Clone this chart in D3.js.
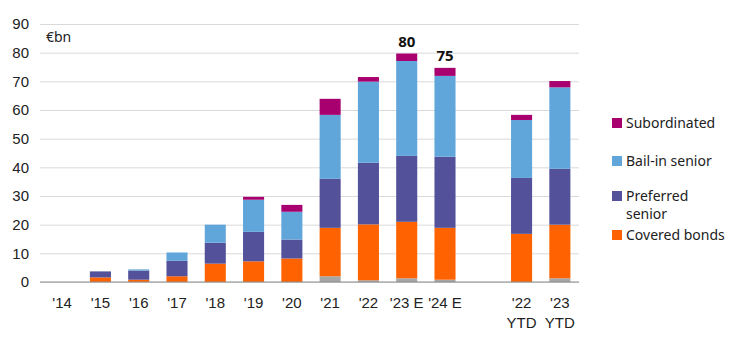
<!DOCTYPE html>
<html>
<head>
<meta charset="utf-8">
<script src="https://cdn.jsdelivr.net/npm/d3@7"></script>
<style>
	body { margin: 0; background: #fff; }
	svg { font-family: "Noto Sans", "Open Sans", sans-serif; }
</style>
</head>
<body>
<div id="chart"></div>
<script>
// categories ('' is the empty slot between the full years and the YTD bars)
var categories = [ "'14", "'15", "'16", "'17", "'18", "'19", "'20", "'21", "'22", "'23 E", "'24 E", '', "'22|YTD", "'23|YTD" ];

// series values, €bn, bottom to top
var other         = [ 0, 0,   0,   0,   0,   0,   0,   2.0,  0.6,  1.3,  0.8,  0, 0,    1.3 ];
var coveredBonds  = [ 0, 1.6, 0.8, 2.0, 6.4, 7.2, 8.2, 16.9, 19.5, 19.7, 18.1, 0, 16.8, 18.7 ];
var preferred     = [ 0, 2.1, 3.2, 5.4, 7.3, 10.3, 6.6, 17.1, 21.5, 23.0, 24.8, 0, 19.5, 19.5 ];
var bailIn        = [ 0, 0,   0.4, 2.9, 6.3, 11.2, 9.7, 22.3, 28.3, 33.1, 28.2, 0, 20.2, 28.4 ];
var subordinated  = [ 0, 0,   0,   0,   0,   1.0, 2.4, 5.6,  1.6,  2.6,  2.8,  0, 1.8,  2.2 ];

var totalLabels = [ { cat: "'23 E", text: '80' }, { cat: "'24 E", text: '75' } ];
var yTicks = [ 0, 10, 20, 30, 40, 50, 60, 70, 80, 90 ];

var series = [
	{ key: 'other', name: null, values: other, color: '#a6a6a6' },
	{ key: 'covered', name: 'Covered bonds', values: coveredBonds, color: '#ff6200' },
	{ key: 'preferred', name: 'Preferred|senior', values: preferred, color: '#525199' },
	{ key: 'bailin', name: 'Bail-in senior', values: bailIn, color: '#60a6da' },
	{ key: 'sub', name: 'Subordinated', values: subordinated, color: '#a8006f' }
];

var sizes = { width: 747, height: 339 };
var padding = { top: 24, left: 43, right: 168, bottom: 57 };
sizes.cwidth = sizes.width - padding.left - padding.right;
sizes.cheight = sizes.height - padding.top - padding.bottom;

var rows = categories.map( function ( c, i ) {
	var r = { cat: c };
	series.forEach( function ( s ) { r[s.key] = s.values[i]; } );
	return r;
} );

var stacked = d3.stack().keys( series.map( function ( s ) { return s.key; } ) )( rows );

var scales = {};
scales.x = d3.scaleBand().domain( categories ).range( [ 0, sizes.cwidth ] ).paddingInner( 0.45 ).paddingOuter( 0.225 );
scales.y = d3.scaleLinear().domain( [ 0, 90 ] ).range( [ sizes.cheight, 0 ] );

var svg = d3.select( '#chart' ).append( 'svg' )
	.attr( 'width', sizes.width )
	.attr( 'height', sizes.height );

var guts = svg.append( 'g' )
	.attr( 'transform', 'translate(' + padding.left + ',' + padding.top + ')' );

// gridlines + y labels
var yAxis = guts.append( 'g' )
	.call( d3.axisLeft( scales.y ).tickValues( yTicks ).tickSize( -sizes.cwidth ).tickPadding( 14 ) );
yAxis.select( '.domain' ).remove();
yAxis.selectAll( '.tick line' ).attr( 'stroke', '#d9d9d9' ).attr( 'x1', -3 );
yAxis.selectAll( '.tick text' ).attr( 'fill', '#222' ).style( 'font-size', '15px' );

guts.append( 'text' )
	.attr( 'x', 3 ).attr( 'y', 18 )
	.attr( 'fill', '#222' ).style( 'font-size', '14px' )
	.text( '€bn' );

// bars
guts.selectAll( 'g.layer' )
	.data( stacked )
	.enter().append( 'g' )
	.attr( 'class', 'layer' )
	.attr( 'fill', function ( d, i ) { return series[i].color; } )
	.selectAll( 'rect' )
	.data( function ( d ) { return d; } )
	.enter().append( 'rect' )
	.attr( 'x', function ( d ) { return scales.x( d.data.cat ); } )
	.attr( 'width', scales.x.bandwidth() )
	.attr( 'y', function ( d ) { return scales.y( d[1] ); } )
	.attr( 'height', function ( d ) { return scales.y( d[0] ) - scales.y( d[1] ); } );

// x axis
var xAxis = guts.append( 'g' )
	.attr( 'transform', 'translate(0,' + sizes.cheight + ')' )
	.call( d3.axisBottom( scales.x ).tickSize( 0 ).tickPadding( 14 ).tickFormat( '' ) );
xAxis.select( '.domain' ).attr( 'stroke', '#8c8c8c' ).attr( 'd', 'M-3,0H' + ( sizes.cwidth ) );
xAxis.selectAll( '.tick' ).each( function ( d ) {
	var parts = d.split( '|' );
	var t = d3.select( this ).append( 'text' )
		.attr( 'fill', '#222' ).style( 'font-size', '15px' )
		.attr( 'text-anchor', 'middle' ).attr( 'y', 26 );
	parts.forEach( function ( p, i ) {
		t.append( 'tspan' ).attr( 'x', 0 ).attr( 'dy', i ? 20 : 0 ).text( p );
	} );
} );

// total labels
var totals = categories.map( function ( c, i ) {
	return d3.sum( series, function ( s ) { return s.values[i]; } );
} );
guts.selectAll( 'text.total' )
	.data( totalLabels )
	.enter().append( 'text' )
	.attr( 'class', 'total' )
	.attr( 'x', function ( d ) { return scales.x( d.cat ) + scales.x.bandwidth() / 2; } )
	.attr( 'y', function ( d ) { return scales.y( totals[categories.indexOf( d.cat )] ) - 7; } )
	.attr( 'text-anchor', 'middle' )
	.style( 'font-size', '15px' ).style( 'font-weight', 'bold' ).attr( 'fill', '#111' )
	.text( function ( d ) { return d.text; } );

// legend
var legendItems = [
	{ s: series[4], y: 123 },
	{ s: series[3], y: 161 },
	{ s: series[2], y: 196 },
	{ s: series[1], y: 235 }
];
var legend = svg.append( 'g' ).attr( 'transform', 'translate(612,0)' );
legendItems.forEach( function ( it ) {
	legend.append( 'rect' )
		.attr( 'x', 0 ).attr( 'y', it.y - 5 )
		.attr( 'width', 10 ).attr( 'height', 10 )
		.attr( 'fill', it.s.color );
	var t = legend.append( 'text' )
		.attr( 'y', it.y + 5 ).attr( 'fill', '#222' ).style( 'font-size', '14px' );
	it.s.name.split( '|' ).forEach( function ( p, i ) {
		t.append( 'tspan' ).attr( 'x', 14 ).attr( 'dy', i ? 18 : 0 ).text( p );
	} );
} );
</script>
</body>
</html>
